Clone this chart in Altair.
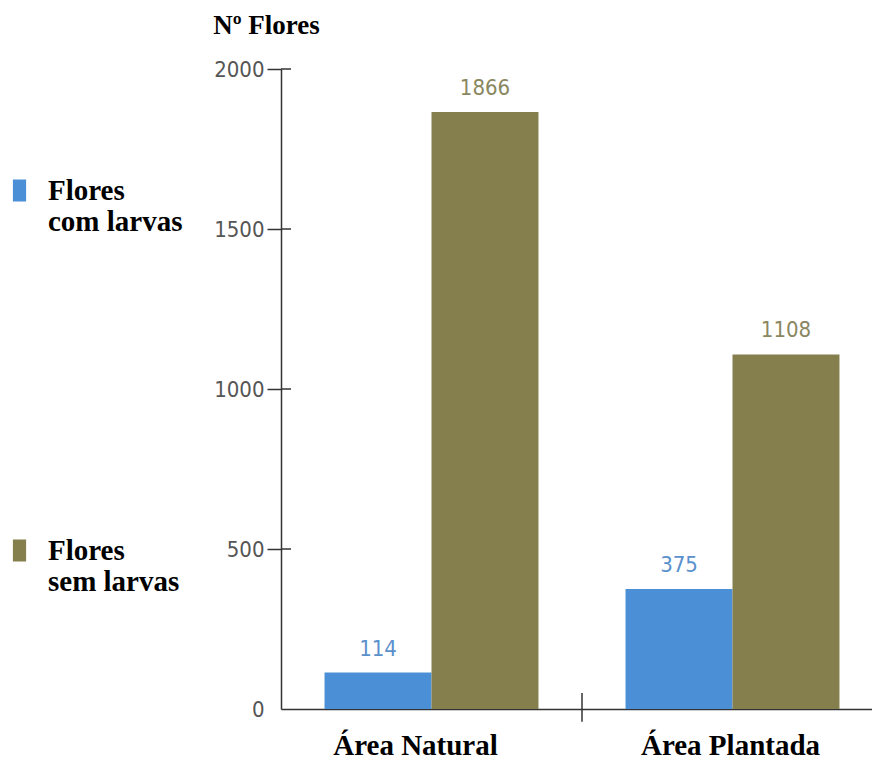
import altair as alt
import pandas as pd

# Flowers counted per area, split by presence of larvae
areas = ["Área Natural", "Área Plantada"]
series = ["Flores com larvas", "Flores sem larvas"]
com_larvas = [114, 375]
sem_larvas = [1866, 1108]
y_ticks = [0, 500, 1000, 1500, 2000]

bar_colors = ["#4b8fd6", "#847f4d"]
text_colors = ["#5a90cc", "#8a8760"]

rows = []
for i, a in enumerate(areas):
    rows.append({"area": a, "serie": series[0], "valor": com_larvas[i]})
    rows.append({"area": a, "serie": series[1], "valor": sem_larvas[i]})
df = pd.DataFrame(rows)

ticks_df = pd.DataFrame({"t": [v for v in y_ticks if v > 0]})
sep_df = pd.DataFrame({"area": areas[1:]})

SERIF = "Liberation Serif"
SANS = "'DejaVu Sans Condensed', 'DejaVu Sans'"
AXIS_C = "#333333"

x_scale = alt.Scale(domain=areas, range=[0, 602], paddingInner=0, paddingOuter=0)
y_scale = alt.Scale(domain=[0, 2000], nice=False, zero=True)
off_scale = alt.Scale(domain=series, paddingInner=0, paddingOuter=0.407)

y_axis = alt.Axis(
    values=y_ticks,
    format="d",
    grid=False,
    domainColor=AXIS_C,
    domainWidth=1.5,
    tickColor=AXIS_C,
    tickWidth=1.5,
    tickSize=14,
    tickOpacity={"condition": {"test": "datum.value === 0", "value": 0}, "value": 1},
    labelFont=SANS,
    labelFontSize=22,
    labelColor="#555555",
    labelPadding=3,
    title="Nº Flores",
    titleAngle=0,
    titleFont=SERIF,
    titleFontSize=27,
    titleFontWeight="bold",
    titleColor="black",
    titleAlign="center",
    titleBaseline="alphabetic",
    titleX=-15,
    titleY=-36,
)

x_axis = alt.Axis(
    title=None,
    ticks=False,
    domainColor=AXIS_C,
    domainWidth=1.5,
    labelFont=SERIF,
    labelFontSize=29,
    labelFontWeight="bold",
    labelColor="black",
    labelAngle=0,
    labelBaseline="alphabetic",
    labelPadding=45,
    labelOffset={"condition": {"test": "datum.value === 'Área Natural'", "value": -16}, "value": -2},
)

legend = alt.Legend(
    title=None,
    orient="none",
    legendX=-276,
    legendY=107,
    direction="vertical",
    padding=0,
    symbolType="M-0.6,-1H0.6V1H-0.6Z",
    symbolSize=484,
    symbolStrokeWidth=0,
    labelFont=SERIF,
    labelFontSize=29,
    labelFontWeight="bold",
    labelColor="black",
    labelBaseline="middle",
    labelOffset=14,
    labelLimit=400,
    rowPadding=299,
    labelExpr="[substring(datum.label, 0, indexof(datum.label, ' ')), substring(datum.label, indexof(datum.label, ' ') + 1)]",
)

base = alt.Chart(df)

bars = base.mark_bar().encode(
    x=alt.X("area:N", scale=x_scale, axis=x_axis, sort=areas),
    xOffset=alt.XOffset("serie:N", scale=off_scale, sort=series),
    y=alt.Y("valor:Q", scale=y_scale, axis=y_axis),
    color=alt.Color("serie:N", scale=alt.Scale(domain=series, range=bar_colors), legend=legend),
)

labels = base.mark_text(font=SANS, fontSize=22, baseline="alphabetic", dy=-17).encode(
    x=alt.X("area:N", scale=x_scale, sort=areas),
    xOffset=alt.XOffset("serie:N", scale=off_scale, sort=series),
    y=alt.Y("valor:Q", scale=y_scale),
    text=alt.Text("valor:Q"),
    color=alt.Color("serie:N", scale=alt.Scale(domain=series, range=text_colors), legend=None),
)

# inner half of the crossing y-axis ticks
inner_ticks = alt.Chart(ticks_df).mark_rule(color=AXIS_C, strokeWidth=1.5).encode(
    y=alt.Y("t:Q", scale=y_scale),
    x=alt.value(0),
    x2=alt.value(10),
)

# separator tick between the two areas
separator = alt.Chart(sep_df).mark_rule(color=AXIS_C, strokeWidth=1.5).encode(
    x=alt.X("area:N", scale=x_scale, sort=areas, bandPosition=0),
    y=alt.datum(50),
    y2=alt.datum(-40),
)

chart = (
    alt.layer(bars, labels, inner_ticks, separator)
    .resolve_scale(color="independent")
    .properties(
        width=591,
        height=640,
        autosize=alt.AutoSizeParams(type="none"),
        padding={"left": 281, "top": 69, "right": 0, "bottom": 51},
        background="white",
    )
    .configure_view(stroke=None)
)

chart.save("out.html", embed_options={"renderer": "svg", "actions": False})
